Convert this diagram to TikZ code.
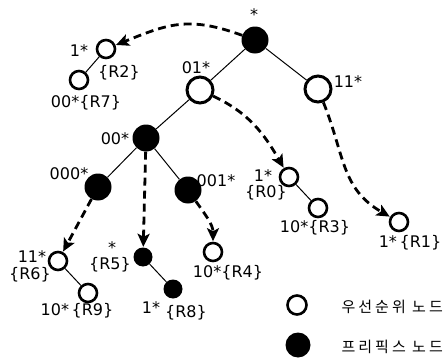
\documentclass[tikz,border=0pt]{standalone}
\usepackage{fontspec}
\setmainfont{DejaVu Sans}
\newfontfamily\krfont[LetterSpace=20]{Noto Sans CJK KR}
\usetikzlibrary{arrows.meta}
\begin{document}
\begin{tikzpicture}[x=1pt,y=-1pt,
  pbig/.style={circle,fill=black,minimum size=27pt,inner sep=0pt},
  obig/.style={circle,draw=black,line width=3pt,fill=white,minimum size=26pt,inner sep=0pt},
  psmall/.style={circle,fill=black,minimum size=19pt,inner sep=0pt},
  osmall/.style={circle,draw=black,line width=2.6pt,fill=white,minimum size=18pt,inner sep=0pt},
  lbl/.style={inner sep=0pt,font=\fontsize{16}{18}\selectfont},
  kr/.style={inner sep=0pt,anchor=east,font=\fontsize{15}{17}\selectfont\krfont},
  tree/.style={line width=1pt},
  darrow/.style={line width=2.8pt,dash pattern=on 8pt off 5pt,-{Stealth[length=13pt,width=12pt,inset=3pt]},shorten >=0.5pt}
]
\useasboundingbox (0,0) rectangle (445,364);
% nodes
\node[pbig] (root) at (255,40) {};
\node[obig] (n01) at (200,90) {};
\node[obig] (n11) at (318,89) {};
\node[pbig] (n00) at (146,138) {};
\node[pbig] (n000) at (98,187) {};
\node[pbig] (n001) at (188,190) {};
\node[osmall] (r2) at (106,49) {};
\node[osmall] (r7) at (79,80) {};
\node[osmall] (r0) at (289,177) {};
\node[osmall] (r3) at (318,208) {};
\node[osmall] (r1) at (399,222) {};
\node[osmall] (r6) at (58,261) {};
\node[osmall] (r9) at (88,293) {};
\node[psmall] (r5) at (143,257) {};
\node[psmall] (r8) at (173,289) {};
\node[osmall] (r4) at (213,252) {};
% tree edges
\draw[tree] (root) -- (n01);
\draw[tree] (root) -- (n11);
\draw[tree] (n01) -- (n00);
\draw[tree] (n00) -- (n000);
\draw[tree] (n00) -- (n001);
\draw[tree] (r2) -- (r7);
\draw[tree] (r0) -- (r3);
\draw[tree] (r6) -- (r9);
\draw[tree] (r5) -- (r8);
% dashed arrows
\draw[darrow] (root) to[out=160,in=22,looseness=1.15] (r2);
\draw[darrow] (n01) to[out=-25,in=120] (r0);
\draw[darrow] (n11) to[out=-68,in=150,looseness=1.1] (r1);
\draw[darrow] (n00) -- (r5);
\draw[darrow] (n000) -- (r6);
\draw[darrow] (n001) to[out=-55,in=90] (r4);
% labels
\node[lbl] (l-root) at (254,15) {*};
\node[lbl] (l-r2a) at (79,51) {1*};
\node[lbl] (l-r2b) at (119,73) {\{R2\}};
\node[lbl] (l-r7) at (86,103) {00*\{R7\}};
\node[lbl] (l-01) at (196,68) {01*};
\node[lbl] (l-11) at (348,82) {11*};
\node[lbl] (l-00) at (115,139) {00*};
\node[lbl] (l-000) at (69,174) {000*};
\node[lbl] (l-001) at (216,181) {001*};
\node[lbl] (l-r0a) at (263,176) {1*};
\node[lbl] (l-r0b) at (266,193) {\{R0\}};
\node[lbl] (l-r3) at (315,228) {10*\{R3\}};
\node[lbl] (l-r1) at (410,243) {1*\,\{R1\}};
\node[lbl] (l-r6a) at (32,257) {11*};
\node[lbl] (l-r6b) at (30,275) {\{R6\}};
\node[lbl] (l-r9) at (77,311) {10*\,\{R9\}};
\node[lbl] (l-r5a) at (112,248) {*};
\node[lbl] (l-r5b) at (110,265) {\{R5\}};
\node[lbl] (l-r8a) at (151,308) {1*};
\node[lbl] (l-r8b) at (186,313) {\{R8\}};
\node[lbl] (l-r4) at (228,273) {10*\{R4\}};
% legend
\node[osmall,minimum size=19pt] (leg-o) at (297,305) {};
\node[pbig,minimum size=25pt] (leg-p) at (298,345) {};
\node[kr] (leg-ot) at (443,307) {우선순위 노드};
\node[kr] (leg-pt) at (443,347) {프리픽스 노드};
\end{tikzpicture}
\end{document}
